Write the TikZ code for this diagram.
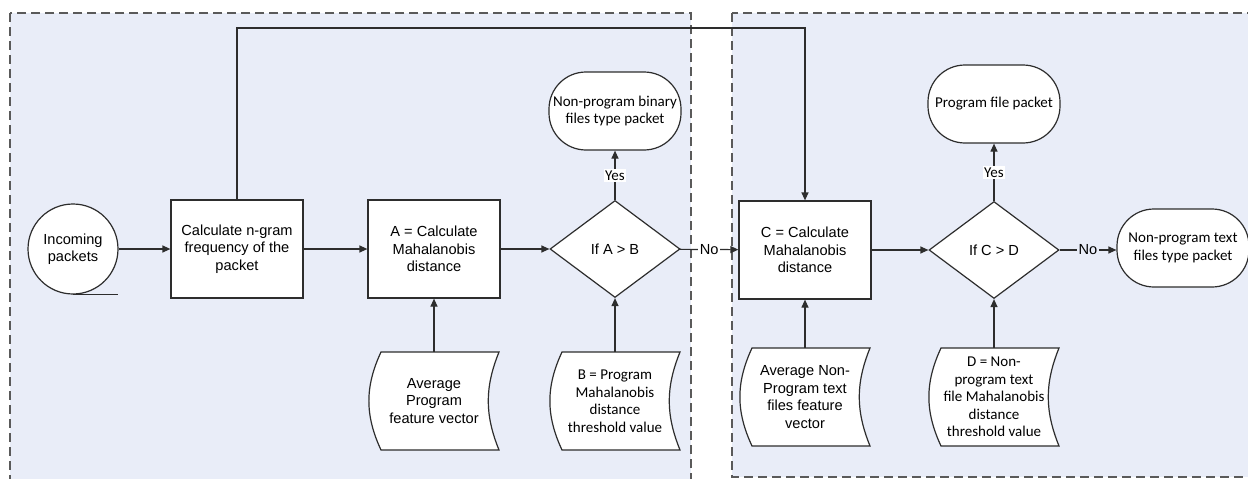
\documentclass[tikz,border=0pt]{standalone}
\usepackage{fontspec}
\setmainfont{Liberation Sans}
\newfontfamily\calibri{Carlito}
\usetikzlibrary{shapes.geometric,arrows.meta}
\definecolor{panel}{RGB}{233,237,248}
\definecolor{edge}{RGB}{45,45,45}
\definecolor{dashgray}{RGB}{90,90,90}
\tikzset{
    ari/.style={font=\fontsize{14.6}{17.5}\selectfont},
    cal/.style={font=\calibri\fontsize{15}{17.5}\selectfont},
    shape line/.style={draw=edge, fill=white, line width=1.2pt},
    process/.style={shape line, ari, align=center, inner sep=0pt, minimum width=132pt, minimum height=98pt},
    terminal/.style={shape line, cal, align=center, inner sep=0pt, rounded corners=37pt, minimum width=132pt, minimum height=78pt},
    decision/.style={diamond, shape line, ari, inner sep=0pt, minimum width=130pt, minimum height=97pt},
    stored/.style={align=center, inner sep=0pt, minimum width=130pt, minimum height=98pt},
    region/.style={draw=dashgray, line width=1.3pt, dash pattern=on 9pt off 5pt},
    arr/.style={draw=edge, line width=1.2pt, -{Triangle[length=8pt,width=7pt]}},
    tag/.style={inner sep=1.5pt}
}
\newcommand{\storednode}[5]{%
    \filldraw[shape line] (#2-53,#3-49) to[bend right=25] (#2-53,#3+49) -- (#2+65,#3+49)
        to[bend left=22] (#2+65,#3-49) -- cycle;
    \node[stored, #5] (#1) at (#2,#3) {#4};
}
\begin{document}
\begin{tikzpicture}[x=1pt, y=-1pt]
    \useasboundingbox (0,0) rectangle (1248,479);
    \clip (0,0) rectangle (1248,479);
    \fill[white] (0,0) rectangle (1248,479);
    \fill[panel] (10,13) rectangle (691,495);
    \draw[region] (10,13) rectangle (691,495);
    \fill[panel] (732,13) rectangle (1265,477);
    \draw[region] (732,13) rectangle (1265,477);

    \node[circle, shape line, ari, align=center, inner sep=0pt, minimum size=90pt] (inc) at (73,249) {Incoming\\packets};
    \draw[draw=edge, line width=1.2pt] (inc.south) -- ++(45,0);
    \node[process] (ngram) at (237,249) {Calculate n-gram\\frequency of the\\packet};
    \node[process] (calcA) at (434,249) {A = Calculate\\Mahalanobis\\distance};
    \node[decision] (ifAB) at (615,249) {If A > B};
    \node[terminal] (binary) at (615,111) {Non-program binary\\files type packet};
    \storednode{avgP}{434}{401}{Average\\Program\\feature vector}{ari}
    \storednode{thrB}{615}{401}{B = Program\\Mahalanobis\\distance\\threshold value}{cal}

    \node[process] (calcC) at (805,250) {C = Calculate\\Mahalanobis\\distance};
    \node[decision] (ifCD) at (994,250) {If C > D};
    \node[terminal] (progfile) at (994,104) {Program file packet};
    \node[terminal] (textfile) at (1183,248) {Non-program text\\files type packet};
    \storednode{avgN}{805}{397}{Average Non-\\Program text\\files feature\\vector}{ari}
    \storednode{thrD}{994}{397}{D = Non-\\program text\\file Mahalanobis\\distance\\threshold value}{cal}

    \coordinate (top) at (0,28);
    \draw[arr] (inc.east) -- (ngram.west |- inc.east);
    \draw[arr] (ngram) -- (calcA);
    \draw[arr] (calcA) -- (ifAB);
    \draw[arr] (ifAB) -- node[tag, fill=white, cal] {Yes} (binary);
    \draw[arr] (ifAB) -- node[tag, fill=white, ari] {No} (calcC);
    \draw[arr] (avgP.north -| calcA.south) -- (calcA);
    \draw[arr] (thrB.north -| ifAB.south) -- (ifAB);
    \draw[arr] (ngram.north) -- (ngram.north |- top) -| (calcC.north);
    \draw[arr] (calcC) -- (ifCD);
    \draw[arr] (ifCD) -- node[tag, fill=white, cal] {Yes} (progfile);
    \draw[arr] (ifCD.east) -- node[tag, fill=panel, ari] {No} (textfile.west |- ifCD.east);
    \draw[arr] (avgN.north -| calcC.south) -- (calcC);
    \draw[arr] (thrD.north -| ifCD.south) -- (ifCD);
\end{tikzpicture}
\end{document}
